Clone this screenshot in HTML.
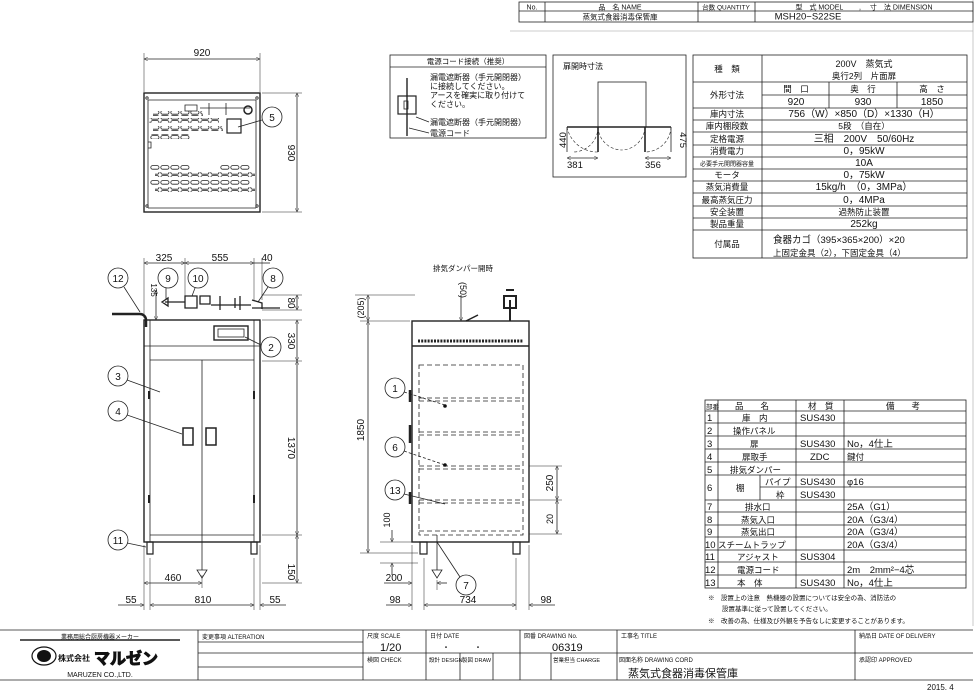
<!DOCTYPE html>
<html><head><meta charset="utf-8"><style>
html,body{margin:0;padding:0;background:#fff;}
svg{display:block;font-family:"Liberation Sans","Noto Sans CJK JP",sans-serif;}
text{fill:#111;}
</style></head><body>
<svg width="975" height="692" viewBox="0 0 975 692" xmlns="http://www.w3.org/2000/svg">
<defs>
<pattern id="slot" patternUnits="userSpaceOnUse" width="10" height="5" x="0" y="0">
<rect x="0.8" y="0.6" width="8.2" height="3.6" rx="1.8" fill="none" stroke="#222" stroke-width="0.8"/>
</pattern>
<marker id="ar" viewBox="0 0 10 10" refX="10" refY="5" markerWidth="7" markerHeight="5" orient="auto-start-reverse"><path d="M0,0 L10,5 L0,10" fill="none" stroke="#333" stroke-width="1.2"/></marker>
</defs>
<g stroke="#222" fill="none" stroke-width="0.8">
<line x1="510" y1="31" x2="973" y2="31" stroke="#bbb"/>
<line x1="973" y1="0" x2="973" y2="626" stroke="#bbb"/>
<rect x="519" y="2" width="454" height="20"/>
<line x1="519" y1="11" x2="973" y2="11"/>
<line x1="545" y1="2" x2="545" y2="22"/><line x1="698" y1="2" x2="698" y2="22"/><line x1="755" y1="2" x2="755" y2="22"/>
<rect x="390" y="55" width="156" height="83"/><line x1="390" y1="67" x2="546" y2="67"/>
<line x1="407" y1="78" x2="407" y2="136" stroke-width="1.4"/>
<rect x="398" y="96" width="18" height="18" stroke-width="1.2"/><rect x="404" y="101" width="4" height="8"/>
<line x1="416" y1="117" x2="429" y2="122"/><line x1="409" y1="128" x2="429" y2="133"/>
<rect x="553" y="55" width="133" height="122"/>
<rect x="598" y="82" width="48" height="45"/>
<line x1="567" y1="127" x2="671" y2="127" stroke-width="1.6"/>
<line x1="598" y1="127" x2="598" y2="152" stroke-width="1.6"/><line x1="645" y1="127" x2="645" y2="152" stroke-width="1.6"/>
<path d="M567,127 A31,31 0 0 0 598,152 M598,127 A25,25 0 0 1 573,152 M598,127 A24,24 0 0 0 622,150 M645,127 A24,24 0 0 1 622,150 M671,127 A26,26 0 0 1 645,152" stroke-dasharray="3,2" stroke-width="0.6"/>
<line x1="567" y1="127" x2="567" y2="152"/><line x1="671" y1="127" x2="671" y2="152"/>
<line x1="567" y1="158" x2="598" y2="158" marker-start="url(#ar)" marker-end="url(#ar)"/>
<line x1="645" y1="158" x2="671" y2="158" marker-start="url(#ar)" marker-end="url(#ar)"/>
<rect x="693" y="55" width="274" height="203"/>
<line x1="762" y1="55" x2="762" y2="258"/>
<line x1="762" y1="95" x2="967" y2="95"/>
<line x1="829" y1="82" x2="829" y2="108"/><line x1="897" y1="82" x2="897" y2="108"/>
<path d="M693,82H967M693,108H967M693,120H967M693,132H967M693,145H967M693,157H967M693,169H967M693,181H967M693,193H967M693,206H967M693,218H967M693,230H967"/>
<rect x="705" y="400" width="261" height="188"/>
<path d="M718,400V588M796,400V588M844,400V588M760,475V500M760,487H966"/>
<path d="M705,411H966M705,423H966M705,436H966M705,449H966M705,462H966M705,475H966M705,500H966M705,512H966M705,525H966M705,537H966M705,550H966M705,562H966M705,575H966"/>
<line x1="0" y1="630" x2="973" y2="630"/><line x1="0" y1="680" x2="973" y2="680"/>
<path d="M198,630V680M363,630V680M426,630V680M520,630V680M617,630V680M855,630V680M460,653V680M493,653V680M551,653V680"/>
<path d="M198,642H363M198,653H855M198,667H363M855,653H973"/>
<path d="M20,640H180" stroke-width="1.5"/>
<rect x="144" y="93" width="116" height="119" stroke-width="1.4"/>
<path d="M148,100H256M148,100V208M256,100V208M148,208H256"/>
<circle cx="147" cy="98" r="1.2"/><circle cx="257" cy="98" r="1.2"/><circle cx="147" cy="206" r="1.2"/><circle cx="257" cy="206" r="1.2"/>
<path d="M148,142h3v6h-3"/>
<rect x="227" y="119" width="14" height="14" stroke-width="1.2"/>
<path d="M185,105h12v6h-12z M200,108h50 M209,103v12 M226,103v12"/>
<circle cx="248" cy="110" r="4" stroke-width="1.5"/>
<rect x="153" y="111" width="50" height="5" fill="url(#slot)" stroke="none"/>
<rect x="149" y="118" width="70" height="5" fill="url(#slot)" stroke="none"/>
<rect x="153" y="126" width="70" height="5" fill="url(#slot)" stroke="none"/>
<rect x="150" y="134" width="40" height="5" fill="url(#slot)" stroke="none"/>
<rect x="150" y="165" width="40" height="5" fill="url(#slot)" stroke="none"/>
<rect x="220" y="165" width="30" height="5" fill="url(#slot)" stroke="none"/>
<rect x="155" y="172" width="100" height="5" fill="url(#slot)" stroke="none"/>
<rect x="150" y="180" width="100" height="5" fill="url(#slot)" stroke="none"/>
<rect x="155" y="187" width="100" height="5" fill="url(#slot)" stroke="none"/>
<line x1="144" y1="53" x2="144" y2="92" stroke-width="0.5"/><line x1="260" y1="53" x2="260" y2="92" stroke-width="0.5"/>
<line x1="144" y1="59" x2="260" y2="59" marker-start="url(#ar)" marker-end="url(#ar)"/>
<line x1="262" y1="93" x2="302" y2="93" stroke-width="0.5"/><line x1="262" y1="212" x2="302" y2="212" stroke-width="0.5"/>
<line x1="297" y1="93" x2="297" y2="212" marker-start="url(#ar)" marker-end="url(#ar)"/>
<circle cx="272" cy="117" r="10"/><line x1="262" y1="120" x2="238" y2="127"/>
<rect x="144" y="320" width="116" height="222" stroke-width="1.4"/>
<path d="M150,320V542M254,320V542M144,346H260M150,360H254M150,535H254M202,360V535"/>
<rect x="214" y="326" width="34" height="14" stroke-width="1.4"/><rect x="218" y="329" width="26" height="8"/>
<rect x="183" y="428" width="10" height="17" stroke-width="1.5"/><rect x="206" y="428" width="10" height="17" stroke-width="1.5"/>
<path d="M149,391v8M149,495v8M254,391v8M254,495v8" stroke-width="2"/>
<path d="M147,542h6v12h-6z M251,542h6v12h-6z" stroke-width="1.2"/>
<path d="M202,535V570M197,570h10l-5,8z"/>
<path d="M112,314H140a6,6 0 0 1 6,6V327" stroke-width="2.5"/>
<path d="M165,302h20M162,302l6,-4v8z M185,296h12v12h-12z M200,296h10v8h-10z M211,305h40 M220,296v14 M235,298v10 M240,296v14 M252,300l10,3v6" stroke-width="1.3"/>
<line x1="252" y1="308" x2="280" y2="308" stroke-width="1.2"/>
<line x1="144" y1="258" x2="144" y2="318" stroke-width="0.5"/><line x1="185" y1="258" x2="185" y2="300" stroke-width="0.5"/><line x1="254" y1="258" x2="254" y2="300" stroke-width="0.5"/><line x1="262" y1="258" x2="262" y2="300" stroke-width="0.5"/>
<line x1="144" y1="263" x2="185" y2="263" marker-start="url(#ar)" marker-end="url(#ar)"/>
<line x1="185" y1="263" x2="254" y2="263" marker-start="url(#ar)" marker-end="url(#ar)"/>
<line x1="254" y1="263" x2="270" y2="263"/>
<line x1="156" y1="290" x2="156" y2="320" marker-start="url(#ar)" marker-end="url(#ar)"/>
<path d="M262,295H302M262,310H302M262,320H302M262,361H302M262,535H302M262,583H302" stroke-width="0.5"/>
<line x1="297" y1="295" x2="297" y2="310" marker-start="url(#ar)" marker-end="url(#ar)"/>
<line x1="297" y1="320" x2="297" y2="361" marker-start="url(#ar)" marker-end="url(#ar)"/>
<line x1="297" y1="361" x2="297" y2="535" marker-start="url(#ar)" marker-end="url(#ar)"/>
<line x1="297" y1="535" x2="297" y2="583" marker-start="url(#ar)" marker-end="url(#ar)"/>
<path d="M144,545V610M202,575V588M150,558V610M254,558V610M260,545V610" stroke-width="0.5"/>
<line x1="144" y1="583" x2="202" y2="583" marker-start="url(#ar)" marker-end="url(#ar)"/>
<line x1="150" y1="605" x2="254" y2="605" marker-start="url(#ar)" marker-end="url(#ar)"/>
<line x1="118" y1="605" x2="144" y2="605" marker-end="url(#ar)"/><line x1="286" y1="605" x2="260" y2="605" marker-end="url(#ar)"/>
<circle cx="118" cy="278" r="10"/><line x1="124" y1="287" x2="140" y2="312"/>
<circle cx="168" cy="278" r="10"/><line x1="166" y1="288" x2="166" y2="300"/>
<circle cx="198" cy="278" r="10"/><line x1="195" y1="288" x2="192" y2="296"/>
<circle cx="273" cy="278" r="10"/><line x1="268" y1="287" x2="258" y2="302"/>
<circle cx="271" cy="347" r="10"/><line x1="261" y1="345" x2="245" y2="337"/>
<circle cx="118" cy="376" r="10"/><line x1="127" y1="380" x2="160" y2="392"/>
<circle cx="118" cy="411" r="10"/><line x1="127" y1="415" x2="182" y2="434"/>
<circle cx="118" cy="540" r="10"/><line x1="127" y1="543" x2="146" y2="547"/>
<rect x="412" y="321" width="117" height="221" stroke-width="1.4"/>
<line x1="412" y1="346" x2="529" y2="346" stroke-width="1.4"/>
<line x1="418" y1="341" x2="523" y2="341" stroke-width="3" stroke-dasharray="2,1.2"/>
<rect x="419" y="365" width="104" height="170" stroke-dasharray="5,3"/>
<path d="M419,398H523M419,401H523M419,432H523M419,435H523M419,466H523M419,469H523M419,500H523M419,503H523M419,531H523" stroke-dasharray="5,3"/>
<path d="M410,390v12M410,425v18M410,492v12" stroke-width="2.5"/>
<path d="M420,542h7v12h-7z M513,542h7v12h-7z" stroke-width="1.2"/>
<path d="M437,535V570M432,570h10l-5,8z"/>
<path d="M466,321l12,-6" stroke-width="1.5"/>
<path d="M510,321V300M504,296h12v12h-12zM506,290h8" stroke-width="2"/>
<path d="M355,295H415M360,321H410M360,553H418M380,542H418M380,563H418M529,500H562M529,466H562M529,534H562" stroke-width="0.5"/>
<line x1="368" y1="295" x2="368" y2="321" marker-start="url(#ar)" marker-end="url(#ar)"/>
<line x1="368" y1="321" x2="368" y2="553" marker-start="url(#ar)" marker-end="url(#ar)"/>
<line x1="461" y1="295" x2="461" y2="321" marker-end="url(#ar)"/>
<line x1="392" y1="530" x2="392" y2="542" marker-end="url(#ar)"/><line x1="392" y1="575" x2="392" y2="563" marker-end="url(#ar)"/>
<line x1="557" y1="466" x2="557" y2="500" marker-start="url(#ar)" marker-end="url(#ar)"/>
<line x1="557" y1="500" x2="557" y2="534" marker-start="url(#ar)" marker-end="url(#ar)"/>
<path d="M412,545V610M424,558V610M516,558V610M529,545V610M437,580V590" stroke-width="0.5"/>
<line x1="384" y1="583" x2="412" y2="583" marker-end="url(#ar)"/><line x1="447" y1="583" x2="437" y2="583" marker-end="url(#ar)"/>
<line x1="424" y1="605" x2="516" y2="605" marker-start="url(#ar)" marker-end="url(#ar)"/>
<line x1="386" y1="605" x2="412" y2="605" marker-end="url(#ar)"/><line x1="555" y1="605" x2="529" y2="605" marker-end="url(#ar)"/>
<circle cx="395" cy="388" r="10"/><line x1="404" y1="392" x2="445" y2="405" stroke-dasharray="3,2"/>
<circle cx="395" cy="447" r="10"/><line x1="404" y1="451" x2="445" y2="465" stroke-dasharray="3,2"/>
<circle cx="395" cy="490" r="10"/><line x1="404" y1="494" x2="445" y2="504"/>
<circle cx="466" cy="585" r="10"/><line x1="460" y1="577" x2="437" y2="542"/>
</g>
<circle cx="445" cy="406" r="1.8" fill="#111"/><circle cx="445" cy="465" r="1.8" fill="#111"/>
<g font-size="7.5" text-anchor="middle">
<text x="532" y="9.5" font-size="7">No.</text>
<text x="620" y="9.5" font-size="7">品　名 NAME</text>
<text x="726" y="9.5" font-size="6.5">台数 QUANTITY</text>
<text x="864" y="9.5" font-size="7">型　式 MODEL　　 ,　 寸　法 DIMENSION</text>
<text x="620" y="19.5">蒸気式食器消毒保管庫</text>
<text x="808" y="19.5" font-size="9.5">MSH20−S22SE</text>
<text x="468" y="64">電源コード接続（推奨）</text>
</g>
<g font-size="8">
<text x="430" y="80">漏電遮断器（手元開閉器）</text>
<text x="430" y="89">に接続してください。</text>
<text x="430" y="98">アースを確実に取り付けて</text>
<text x="430" y="107">ください。</text>
<text x="430" y="125">漏電遮断器（手元開閉器）</text>
<text x="430" y="136">電源コード</text>
<text x="563" y="69">扉開時寸法</text>
<text x="567" y="168" font-size="9.5">381</text><text x="645" y="168" font-size="9.5">356</text>
<text x="0" y="0" font-size="9.5" transform="translate(566,148) rotate(-90)">440</text>
<text x="0" y="0" font-size="9.5" transform="translate(680,148) rotate(90)" text-anchor="end">475</text>
</g>
<g font-size="8.5" text-anchor="middle">
<text x="727" y="72">種　類</text>
<text x="864" y="67" font-size="9">200V　蒸気式</text><text x="864" y="79">奥行2列　片面扉</text>
<text x="727" y="98">外形寸法</text>
<text x="796" y="92">間　口</text><text x="863" y="92">奥　行</text><text x="932" y="92">高　さ</text>
<text x="796" y="105" font-size="10">920</text><text x="863" y="105" font-size="10">930</text><text x="932" y="105" font-size="10">1850</text>
<text x="727" y="117">庫内寸法</text><text x="864" y="117" font-size="10">756（W）×850（D）×1330（H）</text>
<text x="727" y="129">庫内棚段数</text><text x="864" y="129">5段　（自在）</text>
<text x="727" y="142">定格電源</text><text x="864" y="142" font-size="10">三相　200V　50/60Hz</text>
<text x="727" y="154">消費電力</text><text x="864" y="154" font-size="10">0，95kW</text>
<text x="727" y="166" font-size="6">必要手元開閉器容量</text><text x="864" y="166" font-size="10">10A</text>
<text x="727" y="178">モータ</text><text x="864" y="178" font-size="10">0，75kW</text>
<text x="727" y="190">蒸気消費量</text><text x="864" y="190" font-size="10">15kg/h　（0，3MPa）</text>
<text x="727" y="203">最高蒸気圧力</text><text x="864" y="203" font-size="10">0，4MPa</text>
<text x="727" y="215">安全装置</text><text x="864" y="215">過熱防止装置</text>
<text x="727" y="227">製品重量</text><text x="864" y="227" font-size="10">252kg</text>
<text x="727" y="247">付属品</text>
</g>
<g font-size="8.5">
<text x="773" y="243" font-size="9.5">食器カゴ（395×365×200）×20</text>
<text x="773" y="256">上固定金具（2），下固定金具（4）</text>
</g>
<g font-size="8.5">
<text x="706" y="409" font-size="6.5">部番</text>
<text x="735" y="409">品　　名</text><text x="808" y="409">材　質</text><text x="886" y="409">備　　考</text>
<g font-size="9.5">
<text x="707" y="421">1</text><text x="800" y="421">SUS430</text>
<text x="707" y="434">2</text>
<text x="707" y="447">3</text><text x="800" y="447">SUS430</text><text x="847" y="447">No，4仕上</text>
<text x="707" y="460">4</text><text x="810" y="460">ZDC</text>
<text x="707" y="473">5</text>
<text x="707" y="491">6</text>
<text x="800" y="485">SUS430</text><text x="847" y="485">φ16</text>
<text x="800" y="498">SUS430</text>
<text x="707" y="510">7</text><text x="847" y="510">25A（G1）</text>
<text x="707" y="523">8</text><text x="847" y="523">20A（G3/4）</text>
<text x="707" y="535">9</text><text x="847" y="535">20A（G3/4）</text>
<text x="705" y="548">10</text><text x="847" y="548">20A（G3/4）</text>
<text x="705" y="560">11</text><text x="800" y="560">SUS304</text>
<text x="705" y="573">12</text><text x="847" y="573">2m　2mm²−4芯</text>
<text x="705" y="586">13</text><text x="800" y="586">SUS430</text><text x="847" y="586">No，4仕上</text>
</g>
<text x="742" y="421">庫　内</text>
<text x="733" y="434">操作パネル</text>
<text x="750" y="447">扉</text>
<text x="742" y="460">扉取手</text><text x="847" y="460">鍵付</text>
<text x="730" y="473">排気ダンパー</text>
<text x="736" y="491">棚</text>
<text x="765" y="485">パイプ</text>
<text x="776" y="498">枠</text>
<text x="745" y="510">排水口</text>
<text x="741" y="523">蒸気入口</text>
<text x="741" y="535">蒸気出口</text>
<text x="718" y="548">スチームトラップ</text>
<text x="737" y="560">アジャスト</text>
<text x="737" y="573">電源コード</text>
<text x="737" y="586">本　体</text>
<text x="708" y="600" font-size="6.5">※　設置上の注意　熱機器の設置については安全の為、消防法の</text>
<text x="722" y="611" font-size="6.5">設置基準に従って設置してください。</text>
<text x="708" y="623" font-size="6.5">※　改善の為、仕様及び外観を予告なしに変更することがあります。</text>
</g>
<g font-size="10" text-anchor="middle">
<text x="202" y="56">920</text>
<text x="0" y="0" transform="translate(288,153) rotate(90)">930</text>
<text x="164" y="261">325</text><text x="220" y="261">555</text><text x="267" y="261">40</text>
<text x="0" y="0" transform="translate(288,303) rotate(90)">80</text>
<text x="0" y="0" transform="translate(288,341) rotate(90)">330</text>
<text x="0" y="0" transform="translate(288,448) rotate(90)">1370</text>
<text x="0" y="0" transform="translate(288,572) rotate(90)">150</text>
<text x="0" y="0" transform="translate(151,290) rotate(90)" font-size="8">135</text>
<text x="173" y="581">460</text>
<text x="131" y="603">55</text><text x="203" y="603">810</text><text x="275" y="603">55</text>
<text x="0" y="0" transform="translate(364,308) rotate(-90)" font-size="9">(205)</text>
<text x="0" y="0" transform="translate(364,430) rotate(-90)">1850</text>
<text x="0" y="0" transform="translate(460,290) rotate(90)" font-size="9">(50)</text>
<text x="0" y="0" transform="translate(390,520) rotate(-90)" font-size="9">100</text>
<text x="0" y="0" transform="translate(553,483) rotate(-90)">250</text>
<text x="0" y="0" transform="translate(553,519) rotate(-90)" font-size="9">20</text>
<text x="394" y="581">200</text>
<text x="395" y="603">98</text><text x="468" y="603">734</text><text x="546" y="603">98</text>
<text x="463" y="271" font-size="7.5">排気ダンパー開時</text>
</g>
<g font-size="10" text-anchor="middle">
<text x="272" y="121">5</text>
<text x="118" y="282">12</text><text x="168" y="282">9</text><text x="198" y="282">10</text><text x="273" y="282">8</text>
<text x="271" y="351">2</text><text x="118" y="380">3</text><text x="118" y="415">4</text><text x="118" y="544">11</text>
<text x="395" y="392">1</text><text x="395" y="451">6</text><text x="395" y="494">13</text><text x="466" y="589">7</text>
</g>
<g font-size="6">
<text x="100" y="639" text-anchor="middle">業務用総合厨房機器メーカー</text>
<text x="100" y="677" text-anchor="middle" font-size="7">MARUZEN CO.,LTD.</text>
<text x="58" y="661" font-size="8" font-weight="bold">株式会社</text>
<text x="94" y="664" font-size="16" font-weight="bold" fill="#fff" stroke="#111" stroke-width="1">マルゼン</text>
<text x="202" y="639">変更事項 ALTERATION</text>
<text x="367" y="638">尺度 SCALE</text><text x="430" y="638">日付 DATE</text><text x="524" y="638">図番 DRAWING No.</text><text x="621" y="638">工事名 TITLE</text>
<text x="859" y="638">納品日 DATE OF DELIVERY</text>
<text x="367" y="662">検図 CHECK</text><text x="429" y="662" font-size="5.5">設計 DESIGN</text><text x="462" y="662" font-size="5.5">製図 DRAW</text>
<text x="553" y="662" font-size="5.5">営業担当 CHARGE</text><text x="619" y="662">図面名称 DRAWING CORD</text>
<text x="859" y="662">承認印 APPROVED</text>
<text x="380" y="651" font-size="11">1/20</text>
<text x="442" y="650" font-size="8">・　　　・</text>
<text x="552" y="651" font-size="11">06319</text>
<text x="628" y="677" font-size="11">蒸気式食器消毒保管庫</text>
<text x="927" y="690" font-size="8">2015. 4</text>
</g>
<ellipse cx="44" cy="656" rx="12" ry="9" fill="none" stroke="#111" stroke-width="1.2"/>
<ellipse cx="44" cy="656" rx="7" ry="6" fill="#111"/>
</svg>
</body></html>
